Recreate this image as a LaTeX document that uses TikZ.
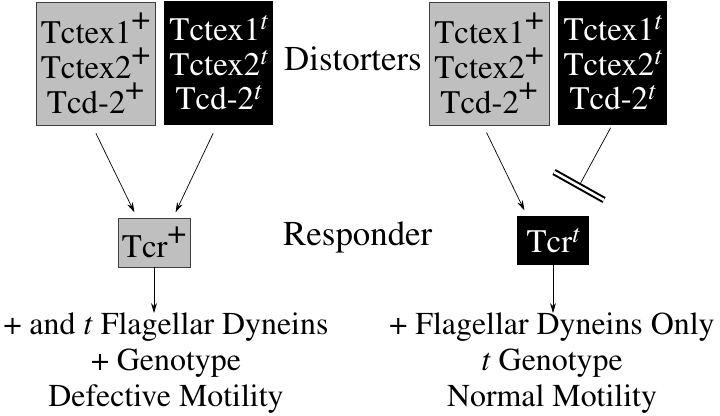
\documentclass[tikz,border=0pt]{standalone}
\usepackage[T1]{fontenc}
\usepackage{mathptmx}
\usetikzlibrary{arrows.meta}

\newcommand\supplus{\raisebox{0.42em}{+}}
\newcommand\supt{\raisebox{0.32em}{\fontsize{26}{26}\selectfont\itshape t}}

\begin{document}
\begin{tikzpicture}[x=1bp, y=-1bp,
          plusbox/.style={draw=black!75, fill=black!25, line width=0.6bp, inner sep=0pt, align=center, font=\fontsize{33}{35}\selectfont},
          tbox/.style={fill=black, text=white, inner sep=0pt, align=center, font=\fontsize{33}{35}\selectfont},
          rowlabel/.style={anchor=base west, inner sep=0pt, font=\fontsize{35}{36}\selectfont},
          outcome/.style={anchor=north, inner sep=0pt, align=center, font=\fontsize{32}{36}\selectfont},
          arr/.style={-{Stealth[length=10bp, width=6bp]}, line width=0.7bp}
        ]
          \useasboundingbox (0,0) rectangle (720,415);

          % left side: wild type responder
          \node[plusbox, minimum width=119bp, minimum height=123bp] (lg) at (95.5,63.5) {Tctex1\supplus\\Tctex2\supplus\\Tcd-2\supplus};
          \node[tbox, minimum width=109bp, minimum height=124bp] (lb) at (218.5,63) {Tctex1\supt\\Tctex2\supt\\Tcd-2\supt};
          \node[plusbox, minimum width=72bp, minimum height=49bp] (tl) at (154,242.5) {Tcr\supplus};
          \node[outcome] (bl) at (166,313) {+ and \textit{t} Flagellar Dyneins\\+ Genotype\\Defective Motility};

          % right side: t responder
          \node[plusbox, minimum width=120bp, minimum height=123bp] (rg) at (489,63.5) {Tctex1\supplus\\Tctex2\supplus\\Tcd-2\supplus};
          \node[tbox, minimum width=109bp, minimum height=124bp] (rb) at (612.5,63) {Tctex1\supt\\Tctex2\supt\\Tcd-2\supt};
          \node[tbox, minimum width=72bp, minimum height=49bp] (rt) at (553,240.5) {Tcr\supt};
          \node[outcome] (br) at (552,313) {+ Flagellar Dyneins Only\\\textit{t} Genotype\\Normal Motility};

          \node[rowlabel] (dist) at (284,70) {Distorters};
          \node[rowlabel] (resp) at (283,245) {Responder};

          \draw[arr, shorten <=9bp, shorten >=6bp] ([xshift=-3.5bp]lg.south) -- ([xshift=-17bp]tl.north);
          \draw[arr, shorten <=9bp, shorten >=6bp] ([xshift=-1.5bp]lb.south) -- ([xshift=19bp]tl.north);
          \draw[arr] (tl.south) -- (tl.south |- bl.north);

          \draw[arr, shorten <=8bp, shorten >=6bp] ([xshift=-6bp]rg.south) -- ([xshift=-26bp]rt.north);
          \coordinate (blk) at (579,186);
          \draw[line width=0.7bp, shorten <=3bp] ([xshift=-0.5bp]rb.south) -- (blk);
          \draw[double, double distance=2.6bp, line width=2bp] ([shift={(-25,-14)}]blk) -- ([shift={(25,14)}]blk);
          \draw[arr] (rt.south) -- (rt.south |- br.north);
        \end{tikzpicture}
\end{document}
